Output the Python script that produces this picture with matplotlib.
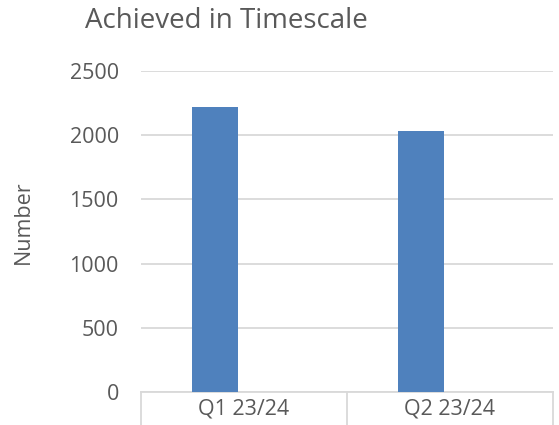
import matplotlib
matplotlib.use("Agg")
import matplotlib.pyplot as plt
import numpy as np

categories = ["Q1 23/24", "Q2 23/24"]
values = [2222, 2033]
yticks = [0, 500, 1000, 1500, 2000, 2500]

plt.rcParams['font.family'] = ['Open Sans', 'DejaVu Sans']
txt = '#595959'
grid = '#d9d9d9'

fig = plt.figure(figsize=(5.59, 4.25), dpi=100)
ax = fig.add_axes([141/559, 1-392/425, (553-141)/559, (392-71)/425])

x = np.arange(len(categories))
ax.bar(x - 0.14, values, width=0.223, color='#4f81bd', zorder=3)

ax.set_xlim(-0.5, len(categories) - 0.5)
ax.set_ylim(0, 2500)
ax.set_yticks(yticks)
ax.set_yticklabels([str(t) for t in yticks], fontsize=15.5, color=txt)
ax.yaxis.grid(True, color=grid, linewidth=1.3, zorder=0)
ax.tick_params(axis='y', length=0, pad=16)
ax.set_xticks(x)
ax.set_xticklabels(categories, fontsize=15.5, color=txt)
ax.tick_params(axis='x', length=0, pad=5)

for s in ['top', 'right', 'left']:
    ax.spines[s].set_visible(False)
ax.spines['bottom'].set_color(grid)
ax.spines['bottom'].set_linewidth(1.3)

for b in np.arange(len(categories) + 1) - 0.5:
    ax.plot([b, b], [0, -33 / (392 - 71) * 2500], color=grid, linewidth=1.3,
            clip_on=False, zorder=2)

fig.text(23.5/559, 1-222.5/425, "Number", fontsize=15.5, color=txt,
         rotation=90, ha='center', va='center')
fig.text(85/559, 1-28/425, "Achieved in Timescale", fontsize=20, color=txt,
         ha='left', va='baseline')

fig.savefig("out.png", dpi=100)
